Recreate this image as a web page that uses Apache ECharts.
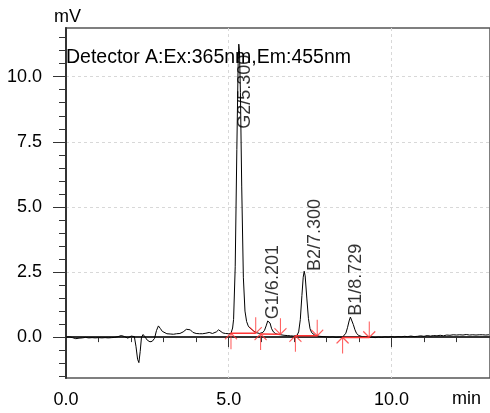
<!DOCTYPE html>
<html>
<head>
<meta charset="utf-8">
<script src="https://cdn.jsdelivr.net/npm/echarts@6/dist/echarts.min.js"></script>
<style>
  html, body { margin: 0; padding: 0; background: #fff; }
  #chart { width: 490px; height: 413px; }
</style>
</head>
<body>
<div id="chart"></div>
<script>
// retention time (min) and detector signal (mV)
const times = [
  0.00, 0.10, 0.20, 0.30, 0.40, 0.50, 0.60, 0.70, 0.80, 0.90,
  1.00, 1.10, 1.20, 1.30, 1.40, 1.50, 1.60, 1.70, 1.80, 1.90,
  2.00, 2.05, 2.10, 2.15, 2.20, 2.24, 2.28, 2.32, 2.37, 2.42,
  2.50, 2.58, 2.65, 2.72, 2.78, 2.84, 2.90, 2.96, 3.02, 3.10,
  3.20, 3.30, 3.40, 3.50, 3.60, 3.70, 3.76, 3.82, 3.90, 4.00,
  4.10, 4.20, 4.30, 4.40, 4.45, 4.50, 4.56, 4.62, 4.69, 4.75,
  4.82, 4.90, 5.00, 5.07, 5.12, 5.15, 5.20, 5.25, 5.29, 5.31,
  5.33, 5.36, 5.40, 5.45, 5.50, 5.55, 5.60, 5.65, 5.70, 5.75,
  5.80, 5.85, 5.90, 5.95, 6.00, 6.05, 6.10, 6.15, 6.20, 6.23,
  6.27, 6.32, 6.38, 6.45, 6.52, 6.60, 6.70, 6.80, 6.90, 7.00,
  7.05, 7.10, 7.15, 7.20, 7.25, 7.29, 7.32, 7.35, 7.40, 7.45,
  7.50, 7.55, 7.60, 7.65, 7.72, 7.80, 7.90, 8.00, 8.10, 8.20,
  8.30, 8.40, 8.50, 8.55, 8.60, 8.65, 8.70, 8.74, 8.78, 8.83,
  8.88, 8.93, 9.00, 9.10, 9.20, 9.30, 9.40, 9.50, 9.60, 9.70,
  9.80, 9.90, 10.00, 10.10, 10.20, 10.30, 10.40, 10.50, 10.60, 10.70,
  10.80, 10.90, 11.00, 11.10, 11.20, 11.30, 11.40, 11.50, 11.60, 11.70,
  11.80, 11.90, 12.00, 12.10, 12.20, 12.30, 12.40, 12.50, 12.60, 12.70,
  12.80, 12.90, 13.00
];
const signal = [
  0.00, 0.01, -0.02, -0.06, -0.04, -0.03, -0.01, -0.03, -0.02, -0.03,
  -0.02, -0.03, -0.02, -0.03, -0.02, -0.01, 0.02, 0.06, 0.02, -0.04,
  0.04, 0.09, 0.02, -0.35, -0.85, -0.98, -0.55, 0.00, 0.10, 0.02,
  -0.12, -0.18, -0.16, -0.05, 0.25, 0.43, 0.33, 0.22, 0.17, 0.13,
  0.12, 0.11, 0.13, 0.14, 0.20, 0.30, 0.35, 0.28, 0.18, 0.14,
  0.13, 0.13, 0.15, 0.18, 0.20, 0.14, 0.13, 0.20, 0.28, 0.22,
  0.16, 0.14, 0.13, 0.14, 0.35, 0.68, 2.70, 7.20, 10.50, 11.25,
  11.00, 9.40, 5.80, 2.30, 1.00, 0.60, 0.43, 0.35, 0.30, 0.25,
  0.20, 0.17, 0.15, 0.14, 0.15, 0.18, 0.26, 0.43, 0.62, 0.64,
  0.54, 0.32, 0.19, 0.13, 0.10, 0.09, 0.07, 0.06, 0.05, 0.04,
  0.05, 0.07, 0.20, 0.67, 1.60, 2.30, 2.53, 2.35, 1.50, 0.72,
  0.32, 0.17, 0.11, 0.07, 0.05, 0.03, 0.02, 0.01, 0.00, 0.01,
  -0.01, 0.00, 0.00, 0.04, 0.15, 0.36, 0.62, 0.77, 0.70, 0.48,
  0.28, 0.14, 0.06, 0.02, 0.01, -0.01, 0.00, -0.02, 0.00, -0.01,
  0.01, 0.00, 0.02, 0.00, 0.02, 0.01, 0.03, 0.02, 0.04, 0.02,
  0.03, 0.05, 0.03, 0.06, 0.04, 0.06, 0.05, 0.07, 0.05, 0.08,
  0.07, 0.09, 0.08, 0.09, 0.08, 0.10, 0.08, 0.09, 0.08, 0.09,
  0.09, 0.08, 0.09
];

// integration marks: peak start (up arrow) and peak end (down arrow)
const startTimes = [5.07, 5.98, 7.05, 8.50];
const startLevels = [0.15, 0.12, 0.05, -0.01];
const endTimes = [5.83, 6.59, 7.72, 9.32];
const endLevels = [0.15, 0.11, 0.05, -0.01];

// peak names and where their labels sit
const peakNames = ['G2/5.300', 'G1/6.201', 'B2/7.300', 'B1/8.729'];
const labelTimes = [5.24, 6.10, 7.38, 8.65];
const labelLevels = [8.0, 0.69, 2.54, 0.82];

// axis ticks
const yLabelTicks = [0, 2.5, 5, 7.5, 10];
const yMinorTicks = [-1.5, -1, -0.5, 0, 0.5, 1, 1.5, 2, 2.5, 3, 3.5, 4, 4.5, 5, 5.5, 6, 6.5,
  7, 7.5, 8, 8.5, 9, 9.5, 10, 10.5, 11, 11.5];
const xLabelTicks = [0, 5, 10];
const xMinorTicks = [1, 2, 3, 4, 6, 7, 8, 9, 11, 12];

const FONT = 'Liberation Sans, Arial, sans-serif';
const RED = '#ff3535';

const chart = echarts.init(document.getElementById('chart'), null, { renderer: 'canvas' });

const trace = times.map((t, i) => [t, signal[i]]);
const baselines = startTimes.map((t, i) => ({
  name: 'base' + i,
  type: 'line',
  data: [[t, startLevels[i]], [endTimes[i], endLevels[i]]],
  showSymbol: false,
  silent: true,
  lineStyle: { color: RED, width: 1.5 },
  z: 3
}));

const Y_MIN = -1.57, Y_MAX = 11.87;
const X_MAX = 13.03;

const option = {
  animation: false,
  grid: {
    left: 66, top: 28, right: -3, bottom: 35,
    show: true, borderColor: '#555', borderWidth: 1.5, backgroundColor: 'transparent'
  },
  xAxis: [
    {
      type: 'value', min: 0, max: X_MAX, position: 'bottom',
      axisLine: { lineStyle: { color: '#333', width: 2 } },
      axisTick: { customValues: xLabelTicks, length: 10, lineStyle: { color: '#333', width: 1 } },
      axisLabel: {
        customValues: xLabelTicks, margin: 13, color: '#000', fontSize: 18, fontFamily: FONT,
        formatter: v => v.toFixed(1)
      },
      splitLine: { show: true, lineStyle: { color: '#d8d8d8', type: [3, 3], width: 1 } }
    },
    {
      type: 'value', min: 0, max: X_MAX, position: 'bottom',
      axisLine: { show: false },
      axisTick: { customValues: xMinorTicks, length: 5, lineStyle: { color: '#333', width: 1 } },
      axisLabel: { show: false },
      splitLine: { show: false }
    }
  ],
  yAxis: [
    {
      type: 'value', min: Y_MIN, max: Y_MAX, position: 'left',
      axisLine: { show: true, lineStyle: { color: '#333', width: 2 } },
      axisTick: { customValues: yLabelTicks, length: 13, lineStyle: { color: '#333', width: 1 } },
      axisLabel: {
        customValues: yLabelTicks, margin: 24, color: '#000', fontSize: 18, fontFamily: FONT,
        formatter: v => v.toFixed(1)
      },
      splitLine: { show: true, lineStyle: { color: '#d8d8d8', type: [3, 3], width: 1 } }
    },
    {
      type: 'value', min: Y_MIN, max: Y_MAX, position: 'left', offset: 0,
      axisLine: { show: false },
      axisTick: { show: true, customValues: yMinorTicks, length: 7, lineStyle: { color: '#333', width: 1 } },
      axisLabel: { show: false },
      splitLine: { show: false }
    }
  ],
  graphic: [
    {
      type: 'text', left: 54, top: 8,
      style: { text: 'mV', fontSize: 18, fontFamily: FONT, fill: '#000' }
    },
    {
      type: 'text', left: 452, top: 390,
      style: { text: 'min', fontSize: 18, fontFamily: FONT, fill: '#000' }
    },
    {
      type: 'text', left: 66, top: 48, z: 10,
      style: { text: 'Detector A:Ex:365nm,Em:455nm', fontSize: 19.5, fontFamily: FONT, fill: '#000' }
    }
  ],
  series: [
    {
      name: 'signal',
      type: 'line',
      data: trace,
      showSymbol: false,
      silent: true,
      lineStyle: { color: '#000', width: 1 },
      z: 2
    },
    ...baselines,
    {
      name: 'start',
      type: 'scatter',
      data: startTimes.map((t, i) => [t, startLevels[i]]),
      symbol: 'path://M6,0 L6,16 M0,6 L6,0 L12,6',
      symbolSize: [12, 16],
      symbolOffset: [0, '50%'],
      itemStyle: { color: 'transparent', borderColor: RED, borderWidth: 1.2 },
      silent: true,
      z: 4
    },
    {
      name: 'end',
      type: 'scatter',
      data: endTimes.map((t, i) => [t, endLevels[i]]),
      symbol: 'path://M6,16 L6,0 M0,10 L6,16 L12,10',
      symbolSize: [12, 16],
      symbolOffset: [0, '-50%'],
      itemStyle: { color: 'transparent', borderColor: RED, borderWidth: 1.2 },
      silent: true,
      z: 4
    },
    {
      name: 'labels',
      type: 'scatter',
      data: labelTimes.map((t, i) => ({ value: [t, labelLevels[i]], name: peakNames[i] })),
      symbolSize: 0,
      silent: true,
      label: {
        show: true,
        position: [0, 0],
        rotate: 90,
        align: 'left',
        verticalAlign: 'top',
        formatter: p => p.name,
        color: '#000',
        fontSize: 18,
        fontFamily: FONT
      },
      z: 5
    }
  ]
};

chart.setOption(option);
</script>
</body>
</html>
